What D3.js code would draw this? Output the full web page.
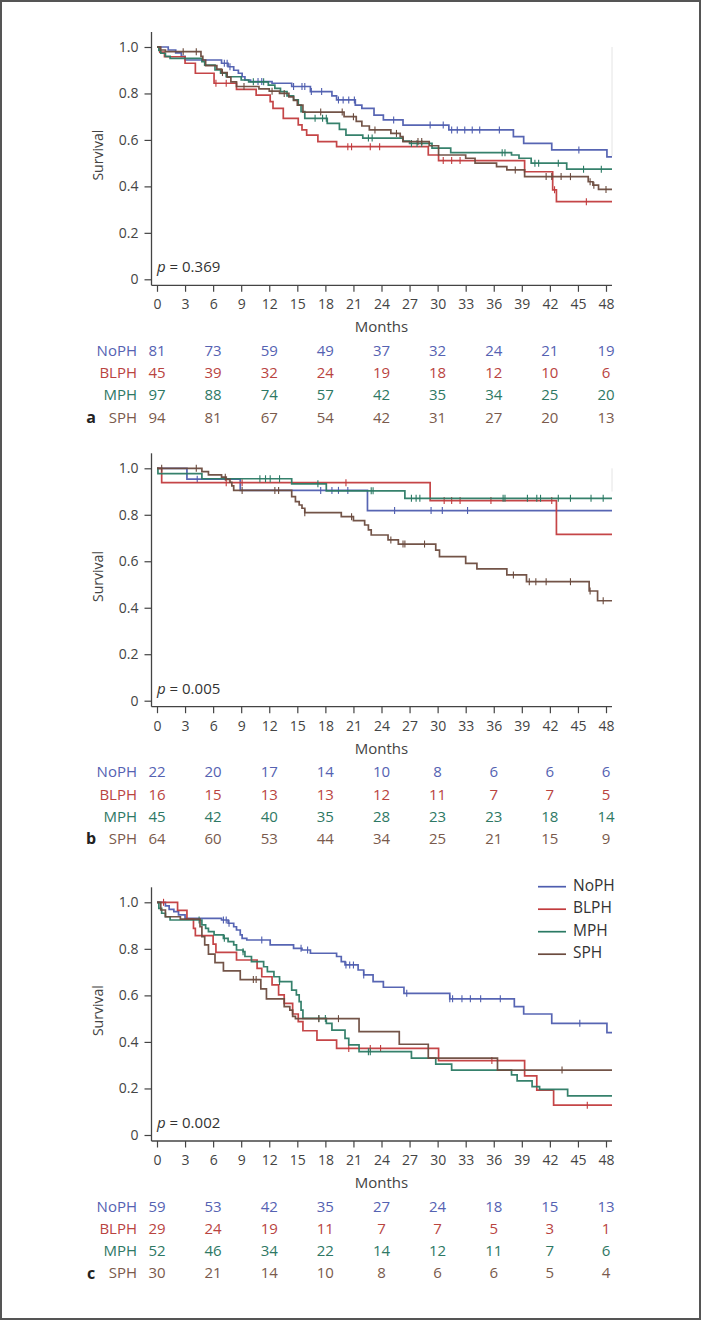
<!DOCTYPE html>
<html>
<head>
<meta charset="utf-8">
<script src="https://cdn.jsdelivr.net/npm/d3@7"></script>
<style>
  body { margin: 0; background: #fff; }
  svg { display: block; font-family: "Open Sans", sans-serif; }
</style>
</head>
<body>
<svg id="chart"></svg>
<script>
// ---- data ----
const groups = ["NoPH", "BLPH", "MPH", "SPH"];
const lineColors = ["#4e5daf", "#c23b3d", "#2b7a64", "#6b4b3e"];
const textColors = ["#5562b2", "#b9443f", "#2e7864", "#7a5a4c"];
const monthTicks = [0, 3, 6, 9, 12, 15, 18, 21, 24, 27, 30, 33, 36, 39, 42, 45, 48];
const riskMonths = [0, 6, 12, 18, 24, 30, 36, 42, 48];
const survTicks = [0, 0.2, 0.4, 0.6, 0.8, 1.0];
const panelLabels = ["a", "b", "c"];
const pValues = ["0.369", "0.005", "0.002"];

// numbers at risk, rows NoPH, BLPH, MPH, SPH
const riskA = [[81, 73, 59, 49, 37, 32, 24, 21, 19], [45, 39, 32, 24, 19, 18, 12, 10, 6],
               [97, 88, 74, 57, 42, 35, 34, 25, 20], [94, 81, 67, 54, 42, 31, 27, 20, 13]];
const riskB = [[22, 20, 17, 14, 10, 8, 6, 6, 6], [16, 15, 13, 13, 12, 11, 7, 7, 5],
               [45, 42, 40, 35, 28, 23, 23, 18, 14], [64, 60, 53, 44, 34, 25, 21, 15, 9]];
const riskC = [[59, 53, 42, 35, 27, 24, 18, 15, 13], [29, 24, 19, 11, 7, 7, 5, 3, 1],
               [52, 46, 34, 22, 14, 12, 11, 7, 6], [30, 21, 14, 10, 8, 6, 6, 5, 4]];

// Kaplan-Meier steps [month, survival after step]
const stepsA = [
  [[0,1],[1.2,0.987],[2,0.975],[2.6,0.96],[3,0.944],[6.9,0.93],[7.6,0.915],[8.2,0.9],[8.7,0.887],[9.1,0.872],[9.4,0.858],[10,0.851],[12.3,0.844],[14.4,0.83],[16.4,0.808],[18.7,0.79],[19.2,0.772],[21.2,0.75],[21.9,0.736],[23.2,0.707],[24.2,0.686],[26.3,0.664],[31.2,0.643],[38.1,0.614],[39.2,0.585],[42.2,0.557],[48.1,0.527]],
  [[0,1],[0.3,0.978],[0.8,0.958],[3,0.93],[4.1,0.887],[6.1,0.844],[8.5,0.818],[10.6,0.793],[12.1,0.765],[12.4,0.736],[13.5,0.693],[15.1,0.665],[15.5,0.643],[16,0.621],[17.2,0.593],[19.2,0.571],[29,0.535],[30.1,0.511],[39.3,0.463],[42.3,0.385],[42.7,0.334]],
  [[0,1],[0.2,0.985],[0.4,0.973],[0.9,0.96],[1.4,0.951],[4.8,0.937],[5.1,0.922],[6.2,0.901],[6.8,0.887],[7.4,0.872],[9,0.858],[9.8,0.85],[11.9,0.836],[12.6,0.822],[13.2,0.808],[13.9,0.79],[14.6,0.772],[15.1,0.75],[15.4,0.722],[15.8,0.693],[18.2,0.671],[19.5,0.645],[20.2,0.621],[22,0.608],[26.3,0.595],[27,0.585],[29.4,0.565],[31.4,0.545],[37.9,0.535],[38.7,0.521],[40,0.5],[43.8,0.474]],
  [[0,1],[0.4,0.987],[0.9,0.98],[4.7,0.96],[4.9,0.944],[5.2,0.92],[6.4,0.905],[6.9,0.89],[7.5,0.87],[7.9,0.85],[8.5,0.83],[10.9,0.82],[12,0.81],[13.1,0.8],[14.1,0.785],[14.6,0.77],[15,0.75],[15.6,0.72],[20,0.7],[21.3,0.68],[21.9,0.66],[22.7,0.643],[25,0.628],[26,0.614],[26.3,0.593],[29.1,0.575],[30.1,0.535],[33,0.521],[34,0.5],[36.3,0.485],[37.4,0.471],[39.3,0.442],[46.1,0.42],[46.6,0.405],[47.2,0.387]]
];
const censA = [
  [7.2, 7.5, 7.8, 10.8, 11.2, 14.6, 15.5, 15.8, 16.5, 17.6, 19.4, 19.9, 20.5, 21.1, 25.3, 29.2, 30.6, 31.5, 32.1, 32.9, 33.7, 34.5, 36.6, 45.1],
  [6.3, 7.4, 20.4, 20.8, 22.8, 23.8, 30.6, 31.5, 32.4, 42.5, 45.9],
  [10.3, 11.4, 16.9, 17.7, 18.1, 22.6, 23, 27.2, 27.8, 28.3, 36.9, 37.2, 40.4, 40.8, 42.9, 45.6, 47.5],
  [2.8, 4.2, 7.0, 9.3, 12.3, 13.6, 17.5, 19.8, 21, 23.3, 25.6, 27.9, 28.3, 38.3, 41.6, 42.2, 43.2, 44.2, 46.3, 46.7, 48]
];

const stepsB = [
  [[0,1],[3.2,0.953],[8.9,0.905],[22.5,0.818]],
  [[0,1],[0.5,0.938],[29.2,0.861],[42.7,0.716]],
  [[0,1],[0.1,0.977],[4.8,0.955],[14.4,0.933],[18.1,0.903],[26.5,0.871]],
  [[0,1],[4.8,0.986],[5.5,0.972],[6.9,0.962],[7.4,0.952],[7.8,0.94],[8,0.924],[8.2,0.905],[14.4,0.878],[14.8,0.857],[15.2,0.842],[15.5,0.828],[15.8,0.809],[19.7,0.792],[21,0.775],[22.2,0.756],[22.6,0.735],[22.9,0.713],[24.7,0.692],[25.8,0.674],[29.8,0.648],[30.2,0.62],[33,0.591],[34.2,0.567],[37.4,0.541],[39.5,0.512],[46.2,0.472],[47.1,0.43]]
];
const censB = [
  [4.3, 17.5, 18.7, 19.4, 20.4, 25.4, 29.3, 30.5, 33.2],
  [7.4, 9.1, 20.2, 30.7, 31.5, 32.4, 35.7, 42.2],
  [11, 11.6, 12.1, 13.1, 17.2, 22.9, 23.1, 27.2, 27.7, 28.1, 37, 37.2, 39.6, 40.6, 41, 42.9, 44.2, 46.4, 47.7],
  [0.5, 4.2, 7.3, 9.1, 12.6, 13.0, 15.8, 20.8, 25, 26.3, 26.5, 28.6, 38.1, 39.8, 40.5, 41.6, 44.2, 46.3, 47.7]
];

const stepsC = [
  [[0,1],[0.9,0.985],[1.3,0.97],[1.8,0.96],[2.3,0.946],[3,0.931],[6.9,0.924],[7.6,0.91],[8.2,0.895],[8.5,0.881],[8.9,0.86],[9.1,0.845],[9.6,0.838],[12.1,0.817],[14.6,0.802],[15.5,0.795],[16.4,0.781],[19.2,0.767],[19.7,0.745],[20.1,0.731],[21.5,0.709],[22.1,0.688],[23.1,0.659],[24.2,0.635],[26.4,0.609],[31.3,0.585],[38.2,0.552],[39.2,0.52],[42.2,0.48],[48.1,0.44]],
  [[0,1],[2.2,0.965],[3.2,0.928],[3.9,0.888],[4.1,0.857],[6,0.82],[6.3,0.785],[8.5,0.752],[10.7,0.716],[11.2,0.68],[12.3,0.645],[13,0.602],[13.6,0.566],[14.5,0.52],[15.1,0.487],[15.6,0.448],[17.1,0.408],[19.2,0.372],[30.1,0.32],[39.3,0.254],[40.6,0.193],[42.4,0.128]],
  [[0,1],[0.2,0.974],[0.5,0.953],[0.9,0.938],[1.4,0.924],[4.8,0.903],[5.2,0.888],[5.5,0.874],[6.1,0.86],[7.1,0.845],[7.6,0.831],[8.2,0.817],[8.5,0.795],[9.2,0.788],[9.4,0.767],[10.1,0.745],[11.4,0.723],[11.8,0.702],[12.5,0.68],[13.1,0.659],[14.4,0.623],[14.9,0.602],[15.2,0.573],[15.4,0.537],[15.6,0.501],[18.1,0.48],[18.7,0.451],[20.1,0.415],[20.5,0.387],[21.6,0.358],[27.2,0.33],[29.8,0.305],[31.5,0.279],[37.9,0.258],[38.5,0.233],[40.1,0.208],[40.9,0.196],[43.9,0.168]],
  [[0,1],[0.4,0.967],[0.9,0.938],[2.5,0.928],[4.6,0.895],[4.8,0.852],[5.1,0.817],[5.5,0.777],[6.2,0.741],[7.1,0.705],[8.9,0.668],[11.1,0.628],[11.7,0.585],[13.6,0.552],[14.2,0.537],[14.5,0.51],[14.8,0.5],[21.6,0.444],[25.9,0.39],[29,0.33],[36.4,0.279]]
];
const censC = [
  [7.1, 7.4, 7.7, 11.2, 15.4, 16.1, 20.2, 20.6, 21, 22.1, 26.7, 31.3, 31.6, 32.6, 33.5, 34.6, 36.7, 45.2],
  [0.7, 20.5, 22.8, 23.9, 35.8, 46],
  [4.5, 7.2, 9.2, 13.1, 17.3, 18, 22.6, 22.8],
  [10.3, 10.6, 17.3, 19.4, 43.3]
];

// faint right-edge frame remnant seen in panels a and b (survival value it reaches)
const edgeLow = [0.53, 0.9, null];

// ---- layout ----
const W = 701, H = 1320;
const xLeft = 151.5, xRight = 612, endMonth = 48.64;
const panels = [
  { top: 47,    zero: 279.3,  steps: stepsA, cens: censA, risk: riskA, legend: false },
  { top: 468.3, zero: 700.7,  steps: stepsB, cens: censB, risk: riskB, legend: false },
  { top: 902.3, zero: 1135,   steps: stepsC, cens: censC, risk: riskC, legend: true }
];

const svg = d3.select("#chart").attr("width", W).attr("height", H);

svg.append("rect")
  .attr("x", 1).attr("y", 1).attr("width", W - 2).attr("height", H - 2)
  .attr("fill", "none").attr("stroke", "#555").attr("stroke-width", 2);

const x = d3.scaleLinear().domain([0, 48]).range([157, 606]);

function survAt(steps, t) {
  let s = 1;
  steps.forEach(d => { if (d[0] <= t) s = d[1]; });
  return s;
}

panels.forEach((p, pi) => {
  const y = d3.scaleLinear().domain([0, 1]).range([p.zero, p.top]);
  const axisY = p.zero + 6;
  const g = svg.append("g");

  if (edgeLow[pi] !== null) {
    g.append("line").attr("x1", xRight).attr("x2", xRight)
      .attr("y1", y(1)).attr("y2", y(edgeLow[pi]))
      .attr("stroke", "#e4e4e4").attr("stroke-width", 1);
  }

  // axes
  const xAxis = g.append("g")
    .attr("transform", `translate(0,${axisY})`)
    .call(d3.axisBottom(x).tickValues(monthTicks).tickSize(6.5).tickPadding(7.5));
  const yAxis = g.append("g")
    .attr("transform", `translate(${xLeft},0)`)
    .call(d3.axisLeft(y).tickValues(survTicks).tickSize(7).tickPadding(6)
      .tickFormat(d => d === 0 ? "0" : d3.format(".1f")(d)));
  [xAxis, yAxis].forEach(a => {
    a.select(".domain").remove();
    a.selectAll("line").attr("stroke", "#444").attr("stroke-width", 1.2);
    a.selectAll("text").attr("fill", "#444").style("font-size", "14px")
      .style("font-family", "'Open Sans', sans-serif");
  });
  g.append("line").attr("x1", xLeft).attr("x2", xLeft)
    .attr("y1", p.top - 15).attr("y2", axisY)
    .attr("stroke", "#444").attr("stroke-width", 1.3);
  g.append("line").attr("x1", xLeft).attr("x2", xRight)
    .attr("y1", axisY).attr("y2", axisY)
    .attr("stroke", "#444").attr("stroke-width", 1.3);

  g.append("text")
    .attr("transform", `translate(99,${(p.top + p.zero) / 2 - 8}) rotate(-90)`)
    .attr("text-anchor", "middle").attr("dominant-baseline", "middle")
    .attr("fill", "#444").style("font-size", "14px").text("Survival");

  g.append("text")
    .attr("x", (x(0) + x(48)) / 2).attr("y", axisY + 43)
    .attr("text-anchor", "middle").attr("dominant-baseline", "middle")
    .attr("fill", "#444").style("font-size", "15px").text("Months");

  const pt = g.append("text").attr("x", 157).attr("y", p.zero - 11)
    .attr("dominant-baseline", "middle").attr("fill", "#333").style("font-size", "15px");
  pt.append("tspan").style("font-style", "italic").text("p");
  pt.append("tspan").text(" = " + pValues[pi]);

  // curves
  const line = d3.line().x(d => x(d[0])).y(d => y(d[1])).curve(d3.curveStepAfter);
  groups.forEach((grp, gi) => {
    const st = p.steps[gi];
    const pts = st.concat([[endMonth, st[st.length - 1][1]]]);
    g.append("path").datum(pts)
      .attr("d", line).attr("fill", "none")
      .attr("stroke", lineColors[gi]).attr("stroke-width", 1.7)
      .attr("stroke-opacity", 0.95);
    g.selectAll(".cens" + gi).data(p.cens[gi]).enter().append("line")
      .attr("x1", d => x(d)).attr("x2", d => x(d))
      .attr("y1", d => y(survAt(st, d)) - 3.5).attr("y2", d => y(survAt(st, d)) + 3.5)
      .attr("stroke", lineColors[gi]).attr("stroke-width", 1.1);
  });

  // numbers at risk
  groups.forEach((grp, gi) => {
    const ry = axisY + 66.7 + gi * 22.2;
    g.append("text").attr("x", 137).attr("y", ry)
      .attr("text-anchor", "end").attr("dominant-baseline", "middle")
      .attr("fill", textColors[gi]).style("font-size", "15px").text(grp);
    g.selectAll(".risk" + gi).data(p.risk[gi]).enter().append("text")
      .attr("x", (d, i) => x(riskMonths[i])).attr("y", ry)
      .attr("text-anchor", "middle").attr("dominant-baseline", "middle")
      .attr("fill", textColors[gi]).style("font-size", "15px").text(d => d);
  });
  g.append("text").attr("x", 91).attr("y", axisY + 66.7 + 3 * 22.2)
    .attr("text-anchor", "middle").attr("dominant-baseline", "middle")
    .attr("fill", "#222").style("font-size", "16px").style("font-weight", "bold")
    .text(panelLabels[pi]);

  if (p.legend) {
    groups.forEach((grp, gi) => {
      const ly = 886.7 + gi * 22.5;
      g.append("line").attr("x1", 538).attr("x2", 566).attr("y1", ly).attr("y2", ly)
        .attr("stroke", lineColors[gi]).attr("stroke-width", 1.7);
      g.append("text").attr("x", 573).attr("y", ly)
        .attr("dominant-baseline", "middle").attr("fill", "#333")
        .style("font-size", "15.5px").text(grp);
    });
  }
});
</script>
</body>
</html>
